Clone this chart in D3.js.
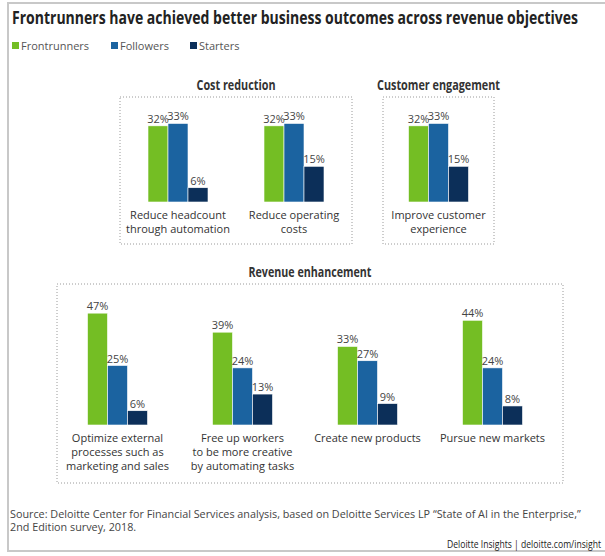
<!DOCTYPE html>
<html><head><meta charset="utf-8">
<script src="https://cdn.jsdelivr.net/npm/d3@7"></script>
<style>body{margin:0;background:#fff}svg{display:block}text{font-family:"Open Sans",sans-serif}</style>
</head><body><svg id="c" width="605" height="556"></svg>
<script>
const series = ["Frontrunners", "Followers", "Starters"];
const seriesColors = ["#74BE24", "#1B63A0", "#0C2F59"];
const panels = ["Cost reduction", "Customer engagement", "Revenue enhancement"];
const categories = [
  "Reduce headcount\nthrough automation",
  "Reduce operating\ncosts",
  "Improve customer\nexperience",
  "Optimize external\nprocesses such as\nmarketing and sales",
  "Free up workers\nto be more creative\nby automating tasks",
  "Create new products",
  "Pursue new markets"
];
const categoryPanel = [0, 0, 1, 2, 2, 2, 2];
const frontrunners = [32, 32, 32, 47, 39, 33, 44];
const followers = [33, 33, 33, 25, 24, 27, 24];
const starters = [6, 15, 15, 6, 13, 9, 8];
const values = [frontrunners, followers, starters];

const svg = d3.select("#c");
// frame
svg.append("rect").attr("x", 8).attr("y", 3).attr("width", 620).attr("height", 548)
  .attr("fill", "none").attr("stroke", "#c8c8c8").attr("stroke-width", 2);

svg.append("text").attr("x", 12).attr("y", 24)
  .attr("textLength", 566).attr("lengthAdjust", "spacingAndGlyphs")
  .style("font-weight", "bold").style("font-size", "18px").attr("fill", "#222")
  .text("Frontrunners have achieved better business outcomes across revenue objectives");

// legend
const legX = [12, 111, 190];
series.forEach((s, i) => {
  svg.append("rect").attr("x", legX[i]).attr("y", 42).attr("width", 7).attr("height", 7).attr("fill", seriesColors[i]);
  svg.append("text").attr("x", legX[i] + 9).attr("y", 50).style("font-size", "11px").attr("fill", "#555").text(s);
});

// panel layouts
const panelLayout = [
  {x0: 120, x1: 352, boxTop: 97, boxBottom: 244, base: 202, titleY: 90, tl: 79},
  {x0: 383, x1: 494, boxTop: 97, boxBottom: 244, base: 202, titleY: 90, tl: 123},
  {x0: 55, x1: 555, boxL: 57, boxR: 563, boxTop: 284, boxBottom: 483, base: 425, titleY: 277, tl: 123}
];
const y = d3.scaleLinear().domain([0, 50]).range([0, 119]);
const inner = d3.scaleBand().domain(series).range([-30, 30]).padding(0);

panels.forEach((p, pi) => {
  const L = panelLayout[pi];
  const bl = L.boxL ?? L.x0, br = L.boxR ?? L.x1;
  const g = svg.append("g");
  g.append("rect").attr("x", bl).attr("y", L.boxTop).attr("width", br - bl).attr("height", L.boxBottom - L.boxTop)
    .attr("fill", "none").attr("stroke", "#9a9a9a").attr("stroke-width", 1).attr("stroke-dasharray", "1,2");
  g.append("text").attr("x", (bl + br) / 2).attr("y", L.titleY).attr("text-anchor", "middle")
    .attr("textLength", L.tl).attr("lengthAdjust", "spacingAndGlyphs")
    .style("font-weight", "bold").style("font-size", "13.5px").attr("fill", "#333").text(p);
  const idx = categories.map((c, i) => i).filter(i => categoryPanel[i] === pi);
  const xb = d3.scaleBand().domain(idx).range([L.x0, L.x1]).padding(0);
  idx.forEach(ci => {
    const cx = xb(ci) + xb.bandwidth() / 2;
    series.forEach((s, si) => {
      const v = values[si][ci];
      const bx = cx + inner(s);
      g.append("rect").attr("x", bx).attr("y", L.base - y(v)).attr("width", inner.bandwidth()).attr("height", y(v))
        .attr("fill", seriesColors[si]).attr("stroke", "#fff").attr("stroke-width", 0.6);
      g.append("text").attr("x", bx + inner.bandwidth() / 2).attr("y", L.base - y(v) - 3)
        .attr("text-anchor", "middle").style("font-size", "11px").attr("fill", "#444").text(v + "%");
    });
    const lines = categories[ci].split("\n");
    lines.forEach((ln, li) => {
      g.append("text").attr("text-anchor", "middle").style("font-size", "11px").attr("fill", "#333")
        .attr("x", cx).attr("y", L.base + 17 + li * 14).text(ln);
    });
  });
});

svg.append("text").attr("x", 10).attr("y", 518).style("font-size", "10.8px").attr("fill", "#444")
  .text("Source: Deloitte Center for Financial Services analysis, based on Deloitte Services LP \u201cState of AI in the Enterprise,\u201d");
svg.append("text").attr("x", 10).attr("y", 531).style("font-size", "10.8px").attr("fill", "#444")
  .text("2nd Edition survey, 2018.");
svg.append("text").attr("x", 601).attr("y", 548).attr("text-anchor", "end")
  .attr("textLength", 154).attr("lengthAdjust", "spacingAndGlyphs")
  .style("font-size", "10.5px").attr("fill", "#222")
  .text("Deloitte Insights | deloitte.com/insight");
</script></body></html>
